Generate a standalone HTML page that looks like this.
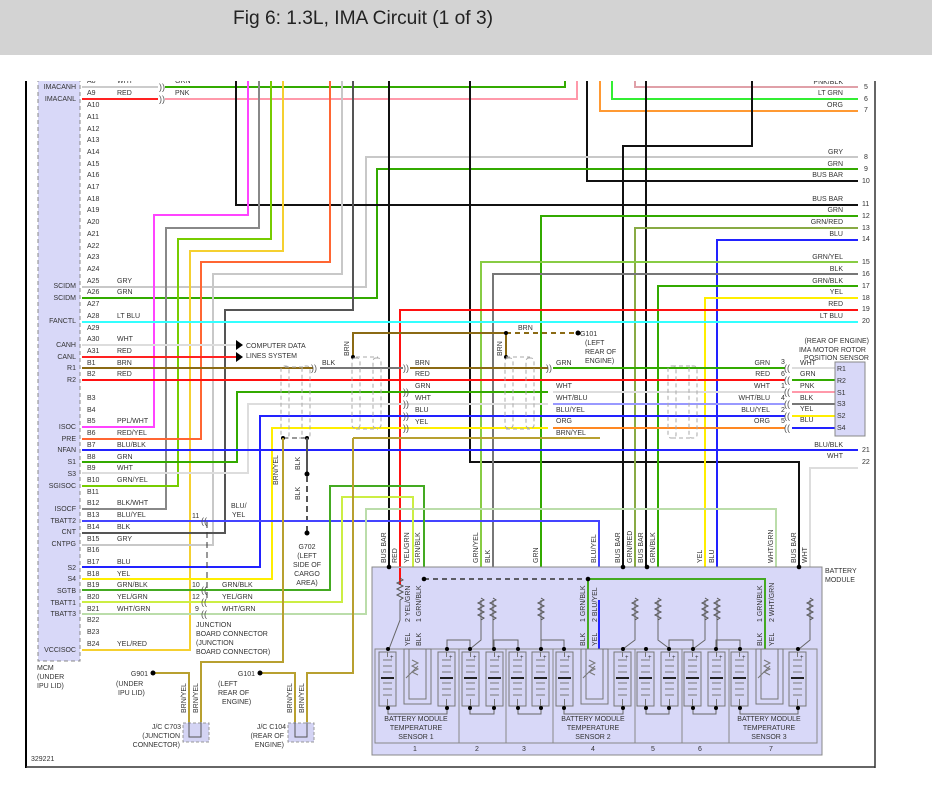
<!DOCTYPE html>
<html><head><meta charset="utf-8"><style>
html,body{margin:0;padding:0;background:#fff;}
svg{display:block;font-family:"Liberation Sans",sans-serif;}
.t{font-size:7px;fill:#333;}
.tr{font-size:7px;fill:#333;text-anchor:end;}
.tm{font-size:7px;fill:#333;text-anchor:middle;}
.w{fill:none;stroke-width:2;}
.thin{fill:none;stroke-width:1;}
.cn{font-size:9px;fill:#555;}
</style></head><body>
<svg width="932" height="798" viewBox="0 0 932 798" xmlns="http://www.w3.org/2000/svg">
<defs>
<clipPath id="c"><rect x="0" y="81" width="932" height="717"/></clipPath>
<g id="cell">
<rect x="0" y="0" width="17" height="54" fill="#d4d4f4" stroke="#777" stroke-width="1"/>
<line x1="4" y1="8" x2="13" y2="8" stroke="#777"/>
<line x1="4" y1="14" x2="13" y2="14" stroke="#777"/>
<line x1="4" y1="20" x2="13" y2="20" stroke="#777"/>
<line x1="2" y1="26" x2="15" y2="26" stroke="#222" stroke-width="2"/>
<line x1="4" y1="31" x2="13" y2="31" stroke="#777"/>
<line x1="4" y1="37" x2="13" y2="37" stroke="#777"/>
<line x1="4" y1="43" x2="13" y2="43" stroke="#777"/>
<line x1="8.5" y1="0" x2="8.5" y2="5" stroke="#777"/>
<line x1="8.5" y1="47" x2="8.5" y2="54" stroke="#777"/>
<text x="11" y="7" style="font-size:6px" fill="#333">+</text>
</g>
<path id="res" d="M0 0 l3 2 l-6 3 l6 3 l-6 3 l6 3 l-6 3 l6 3 l-3 2" fill="none" stroke="#555" stroke-width="1"/>
</defs>

<rect x="0" y="0" width="932" height="55" fill="#d3d3d3"/>
<text x="233" y="24" style="font-size:19px" fill="#222" textLength="260" lengthAdjust="spacingAndGlyphs">Fig 6: 1.3L, IMA Circuit (1 of 3)</text>

<!-- frame -->
<line x1="26" y1="81" x2="26" y2="768" stroke="#000" stroke-width="2"/>
<line x1="875" y1="81" x2="875" y2="768" stroke="#333" stroke-width="1.5"/>
<line x1="26" y1="767" x2="875" y2="767" stroke="#333" stroke-width="1.5"/>

<g clip-path="url(#c)">
<!-- MCM box -->
<rect x="38" y="78" width="42" height="583" fill="#d8d8f8" stroke="#888" stroke-dasharray="4,3"/>

<!-- top area wires -->
<path class="w" stroke="#ccc" d="M82 87H158"/>
<path class="w" stroke="#33aa00" d="M165 87H565V70"/>
<path class="w" stroke="#ff2222" d="M82 99H158"/>
<path class="w" stroke="#ff99aa" d="M165 99H577V70"/>
<path class="w" stroke="#e0a0a8" d="M635 70V87H858"/>
<path class="w" stroke="#33ee33" d="M612 70V99H858"/>
<path class="w" stroke="#ff9933" d="M600 70V111H858"/>
<path class="w" stroke="#111" d="M587 70V181H858"/>
<path class="w" stroke="#c8c8c8" d="M82 287H366V157H858"/>
<path class="w" stroke="#33aa00" d="M82 298H377V169H858"/>
<path class="w" stroke="#111" d="M236 70V205H858"/>
<path class="w" stroke="#ff44ff" d="M248 70V215H154V427H82"/>
<path class="w" stroke="#888" d="M259 70V228H166V509H82"/>
<path class="w" stroke="#77cc00" d="M271 70V239H178V486H82"/>
<path class="w" stroke="#f5d030" d="M283 70V251H190V650H82"/>
<path class="w" stroke="#ff6633" d="M330 70V262H201V439H82"/>
<path class="w" stroke="#c8c8c8" d="M342 70V274H213V545H82"/>
<path class="w" stroke="#555" d="M353 70V310H225V533H82"/>
<path class="w" stroke="#111" d="M389 70V649"/>
<path class="w" stroke="#111" d="M470 70V462H799V649"/>
<path class="w" stroke="#111" d="M646 70V649"/>
<path class="w" stroke="#111" d="M752 70V146H623V649"/>

<!-- right numbered wires going down -->
<path class="w" stroke="#33aa00" d="M858 216H541V600"/>
<path class="w" stroke="#88aa44" d="M858 228H635V600"/>
<path class="w" stroke="#2222ff" d="M858 240H717V600"/>
<path class="w" stroke="#88cc44" d="M858 262H481V600"/>
<path class="w" stroke="#777" d="M858 274H493V600"/>
<path class="w" stroke="#33aa00" d="M858 286H658V600"/>
<path class="w" stroke="#ffee00" d="M858 298H705V600"/>
<path class="w" stroke="#ff1111" d="M858 310H400V585"/>
<path class="w" stroke="#33ffff" d="M82 322H858"/>

<!-- CAN -->
<path class="w" stroke="#ddd" d="M82 345H237"/>
<path class="w" stroke="#ff2222" d="M82 357H237"/>
<path d="M236 340l7 5l-7 5z M236 352l7 5l-7 5z" fill="#000"/>
<text class="t" x="246" y="348">COMPUTER DATA</text>
<text class="t" x="246" y="358">LINES SYSTEM</text>

<!-- rows to rotor sensor -->
<path class="w" stroke="#8b6a14" d="M82 368H313"/>
<path class="w" stroke="#777" d="M320 368H403"/>
<path class="w" stroke="#8b6a14" d="M410 368H548"/>
<path class="w" stroke="#33aa00" d="M553 368H785"/>
<path class="w" stroke="#ddd" d="M792 368H835"/>
<path class="w" stroke="#ff1111" d="M82 380H785"/>
<path class="w" stroke="#33aa00" d="M792 380H835"/>
<path class="w" stroke="#33aa00" d="M82 462H237V392H548"/>
<path class="w" stroke="#ddd" d="M553 392H785"/>
<path class="w" stroke="#ff99aa" d="M792 392H835"/>
<path class="w" stroke="#ddd" d="M82 473H248V404H548"/>
<path class="w" stroke="#9999ff" d="M553 404H785"/>
<path class="w" stroke="#777" d="M792 404H835"/>
<path class="w" stroke="#2222ff" d="M82 567H260V416H785"/>
<path class="w" stroke="#ffee00" d="M792 416H835"/>
<path class="w" stroke="#ffee00" d="M82 579H272V428H548"/>
<path class="w" stroke="#ff8822" d="M553 428H785"/>
<path class="w" stroke="#2222ff" d="M792 428H835"/>
<path class="w" stroke="#b8a030" d="M353 438H600"/>
<path class="w" stroke="#2222ff" d="M82 450H858"/>
<path class="w" stroke="#ddd" d="M858 468H810V600"/>

<!-- BRN to G101 -->
<path class="w" stroke="#8b6a14" d="M353 357V333H506"/>
<path class="w" stroke="#8b6a14" d="M506 333V357"/>
<path class="w" stroke="#8b6a14" stroke-dasharray="5,4" d="M506 333H578"/>
<circle cx="353" cy="357" r="2" fill="#000"/><circle cx="506" cy="333" r="2" fill="#000"/><circle cx="506" cy="357" r="2" fill="#000"/><circle cx="578" cy="333" r="2.5" fill="#000"/>
<text class="t" x="580" y="336">G101</text>
<text class="t" x="585" y="345">(LEFT</text>
<text class="t" x="585" y="354">REAR OF</text>
<text class="t" x="585" y="363">ENGINE)</text>
<text class="t" x="518" y="330">BRN</text>
<text class="t" transform="translate(349,356) rotate(-90)">BRN</text>
<text class="t" transform="translate(502,356) rotate(-90)">BRN</text>

<!-- shields -->
<g fill="none" stroke="#aaa" stroke-dasharray="4,3" stroke-width="1">
<rect x="281" y="366" width="8" height="72" rx="3"/><rect x="302" y="366" width="8" height="72" rx="3"/>
<path d="M285 367H305 M285 438H307"/>
<rect x="352" y="358" width="8" height="70" rx="3"/><rect x="373" y="358" width="8" height="70" rx="3"/>
<path d="M356 357H378 M356 429H378"/>
<rect x="505" y="358" width="8" height="70" rx="3"/><rect x="526" y="358" width="8" height="70" rx="3"/>
<path d="M506 357H530 M506 429H530"/>
<rect x="668" y="366" width="8" height="72" rx="3"/><rect x="689" y="366" width="8" height="72" rx="3"/>
<path d="M672 366H693 M672 438H693"/>
</g>
<path stroke="#333" stroke-dasharray="5,4" fill="none" d="M283 438H307"/>
<circle cx="283" cy="438" r="2" fill="#000"/><circle cx="307" cy="438" r="2" fill="#000"/>
<path stroke="#555" stroke-width="2" fill="none" d="M307 438V474"/>
<circle cx="307" cy="474" r="2.5" fill="#000"/>
<path stroke="#555" stroke-width="2" stroke-dasharray="6,4" fill="none" d="M307 476V532"/>
<circle cx="307" cy="533" r="2.5" fill="#000"/>
<text class="t" transform="translate(300,470) rotate(-90)">BLK</text>
<text class="t" transform="translate(300,500) rotate(-90)">BLK</text>
<text class="t" transform="translate(278,485) rotate(-90)">BRN/YEL</text>
<text class="tm" x="307" y="549">G702</text>
<text class="tm" x="307" y="558">(LEFT</text>
<text class="tm" x="307" y="567">SIDE OF</text>
<text class="tm" x="307" y="576">CARGO</text>
<text class="tm" x="307" y="585">AREA)</text>

<!-- B13 blue, junction wires -->
<path class="w" stroke="#4444ff" d="M82 521H599V600"/>
<path class="w" stroke="#44aa22" d="M82 590H330V486H424V649"/>
<path class="w" stroke="#ccee44" d="M82 602H342V497H413V649"/>
<path class="w" stroke="#bbddaa" d="M82 614H366V509H776V649"/>
<path stroke="#333" stroke-dasharray="6,4" fill="none" d="M207 522V600"/>
<text class="cn" x="201" y="524">((</text>
<text class="cn" x="201" y="593">((</text>
<text class="cn" x="201" y="605">((</text>
<text class="cn" x="201" y="617">((</text>
<text class="t" x="192" y="518">11</text>
<text class="t" x="192" y="587">10</text>
<text class="t" x="192" y="599">12</text>
<text class="t" x="195" y="611">9</text>
<text class="t" x="222" y="587">GRN/BLK</text>
<text class="t" x="222" y="599">YEL/GRN</text>
<text class="t" x="222" y="611">WHT/GRN</text>
<text class="t" x="231" y="508">BLU/</text>
<text class="t" x="232" y="517">YEL</text>
<text class="t" x="196" y="627">JUNCTION</text>
<text class="t" x="196" y="636">BOARD CONNECTOR</text>
<text class="t" x="196" y="645">(JUNCTION</text>
<text class="t" x="196" y="654">BOARD CONNECTOR)</text>

<!-- bottom-left grounds -->
<path class="w" stroke="#b8a030" d="M153 673H189V722"/>
<path class="w" stroke="#b8a030" d="M201 722V662H283V438"/>
<path class="w" stroke="#b8a030" d="M260 673H295V722"/>
<path class="w" stroke="#b8a030" d="M307 722V673H353V438"/>
<circle cx="153" cy="673" r="2.5" fill="#000"/><circle cx="260" cy="673" r="2.5" fill="#000"/>
<text class="tr" x="148" y="676">G901</text>
<text class="t" x="116" y="686">(UNDER</text>
<text class="t" x="118" y="695">IPU LID)</text>
<text class="tr" x="255" y="676">G101</text>
<text class="t" x="218" y="686">(LEFT</text>
<text class="t" x="218" y="695">REAR OF</text>
<text class="t" x="222" y="704">ENGINE)</text>
<text class="t" transform="translate(186,713) rotate(-90)">BRN/YEL</text>
<text class="t" transform="translate(198,713) rotate(-90)">BRN/YEL</text>
<text class="t" transform="translate(292,713) rotate(-90)">BRN/YEL</text>
<text class="t" transform="translate(304,713) rotate(-90)">BRN/YEL</text>
<rect x="183" y="723" width="26" height="19" fill="#d4d4f4" stroke="#999" stroke-dasharray="3,2"/>
<rect x="288" y="723" width="26" height="19" fill="#d4d4f4" stroke="#999" stroke-dasharray="3,2"/>
<path d="M189 722V737H201V722 M295 722V737H307V722" stroke="#555" fill="none"/>
<text class="tr" x="181" y="729">J/C C703</text>
<text class="tr" x="180" y="738">(JUNCTION</text>
<text class="tr" x="180" y="747">CONNECTOR)</text>
<text class="tr" x="286" y="729">J/C C104</text>
<text class="tr" x="284" y="738">(REAR OF</text>
<text class="tr" x="284" y="747">ENGINE)</text>
<text class="t" x="37" y="670">MCM</text>
<text class="t" x="37" y="679">(UNDER</text>
<text class="t" x="37" y="688">IPU LID)</text>
<text class="t" x="31" y="761">329221</text>

<!-- MCM pins -->
<g class="t">
<text x="87" y="83">A8</text><text x="87" y="95">A9</text><text x="87" y="107">A10</text><text x="87" y="119">A11</text><text x="87" y="131">A12</text><text x="87" y="142">A13</text><text x="87" y="154">A14</text><text x="87" y="166">A15</text><text x="87" y="177">A16</text><text x="87" y="189">A17</text><text x="87" y="201">A18</text><text x="87" y="212">A19</text><text x="87" y="224">A20</text><text x="87" y="236">A21</text><text x="87" y="248">A22</text><text x="87" y="259">A23</text><text x="87" y="271">A24</text><text x="87" y="283">A25</text><text x="87" y="294">A26</text><text x="87" y="306">A27</text><text x="87" y="318">A28</text><text x="87" y="330">A29</text><text x="87" y="341">A30</text><text x="87" y="353">A31</text><text x="87" y="365">B1</text><text x="87" y="376">B2</text>
<text x="87" y="400">B3</text><text x="87" y="412">B4</text><text x="87" y="423">B5</text><text x="87" y="435">B6</text><text x="87" y="447">B7</text><text x="87" y="459">B8</text><text x="87" y="470">B9</text><text x="87" y="482">B10</text><text x="87" y="494">B11</text><text x="87" y="505">B12</text><text x="87" y="517">B13</text><text x="87" y="529">B14</text><text x="87" y="541">B15</text><text x="87" y="552">B16</text><text x="87" y="564">B17</text><text x="87" y="576">B18</text><text x="87" y="587">B19</text><text x="87" y="599">B20</text><text x="87" y="611">B21</text><text x="87" y="622">B22</text><text x="87" y="634">B23</text><text x="87" y="646">B24</text>
<text x="117" y="83">WHT</text><text x="117" y="95">RED</text><text x="117" y="283">GRY</text><text x="117" y="294">GRN</text><text x="117" y="318">LT BLU</text><text x="117" y="341">WHT</text><text x="117" y="353">RED</text><text x="117" y="365">BRN</text><text x="117" y="376">RED</text>
<text x="117" y="423">PPL/WHT</text><text x="117" y="435">RED/YEL</text><text x="117" y="447">BLU/BLK</text><text x="117" y="459">GRN</text><text x="117" y="470">WHT</text><text x="117" y="482">GRN/YEL</text><text x="117" y="505">BLK/WHT</text><text x="117" y="517">BLU/YEL</text><text x="117" y="529">BLK</text><text x="117" y="541">GRY</text><text x="117" y="564">BLU</text><text x="117" y="576">YEL</text><text x="117" y="587">GRN/BLK</text><text x="117" y="599">YEL/GRN</text><text x="117" y="611">WHT/GRN</text><text x="117" y="646">YEL/RED</text>
<text x="175" y="83">GRN</text><text x="175" y="95">PNK</text>
</g>
<g class="tr">
<text x="76" y="89">IMACANH</text><text x="76" y="101">IMACANL</text><text x="76" y="288">SCIDM</text><text x="76" y="300">SCIDM</text><text x="76" y="323">FANCTL</text><text x="76" y="347">CANH</text><text x="76" y="359">CANL</text><text x="76" y="370">R1</text><text x="76" y="382">R2</text>
<text x="76" y="429">ISOC</text><text x="76" y="441">PRE</text><text x="76" y="452">NFAN</text><text x="76" y="464">S1</text><text x="76" y="476">S3</text><text x="76" y="488">SGISOC</text><text x="76" y="511">ISOCF</text><text x="76" y="523">TBATT2</text><text x="76" y="534">CNT</text><text x="76" y="546">CNTPG</text><text x="76" y="570">S2</text><text x="76" y="581">S4</text><text x="76" y="593">SGTB</text><text x="76" y="605">TBATT1</text><text x="76" y="616">TBATT3</text><text x="76" y="652">VCCISOC</text>
</g>
<!-- connectors small -->
<g class="cn"><text x="159" y="90">))</text><text x="159" y="102">))</text><text x="311" y="371">))</text><text x="403" y="371">))</text><text x="546" y="371">))</text><text x="403" y="395">))</text><text x="403" y="407">))</text><text x="403" y="419">))</text><text x="403" y="431">))</text>
<text x="784" y="371">((</text><text x="784" y="383">((</text><text x="784" y="395">((</text><text x="784" y="407">((</text><text x="784" y="419">((</text><text x="784" y="431">((</text></g>
<text class="t" x="322" y="365">BLK</text>
<g class="t"><text x="415" y="365">BRN</text><text x="415" y="376">RED</text><text x="415" y="388">GRN</text><text x="415" y="400">WHT</text><text x="415" y="412">BLU</text><text x="415" y="424">YEL</text>
<text x="556" y="365">GRN</text><text x="556" y="388">WHT</text><text x="556" y="400">WHT/BLU</text><text x="556" y="412">BLU/YEL</text><text x="556" y="423">ORG</text><text x="556" y="435">BRN/YEL</text>
<text x="800" y="365">WHT</text><text x="800" y="376">GRN</text><text x="800" y="388">PNK</text><text x="800" y="400">BLK</text><text x="800" y="411">YEL</text><text x="800" y="422">BLU</text></g>
<g class="tr"><text x="770" y="365">GRN</text><text x="770" y="376">RED</text><text x="770" y="388">WHT</text><text x="770" y="400">WHT/BLU</text><text x="770" y="412">BLU/YEL</text><text x="770" y="423">ORG</text></g>
<g class="t"><text x="781" y="364">3</text><text x="781" y="376">6</text><text x="781" y="388">1</text><text x="781" y="400">4</text><text x="781" y="412">2</text><text x="781" y="423">5</text></g>
<rect x="835" y="362" width="30" height="74" fill="#d8d8f8" stroke="#888"/>
<g class="t"><text x="837" y="371">R1</text><text x="837" y="383">R2</text><text x="837" y="395">S1</text><text x="837" y="406">S3</text><text x="837" y="418">S2</text><text x="837" y="430">S4</text></g>
<g class="tr"><text x="869" y="343">(REAR OF ENGINE)</text><text x="866" y="352">IMA MOTOR ROTOR</text><text x="869" y="360">POSITION SENSOR</text></g>

<!-- right wire labels -->
<g class="tr">
<text x="843" y="84">PNK/BLK</text><text x="843" y="95">LT GRN</text><text x="843" y="107">ORG</text><text x="843" y="154">GRY</text><text x="843" y="166">GRN</text><text x="843" y="177">BUS BAR</text><text x="843" y="201">BUS BAR</text><text x="843" y="212">GRN</text><text x="843" y="224">GRN/RED</text><text x="843" y="236">BLU</text><text x="843" y="259">GRN/YEL</text><text x="843" y="271">BLK</text><text x="843" y="283">GRN/BLK</text><text x="843" y="294">YEL</text><text x="843" y="306">RED</text><text x="843" y="318">LT BLU</text><text x="843" y="447">BLU/BLK</text><text x="843" y="458">WHT</text>
</g>
<g class="t">
<text x="864" y="89">5</text><text x="864" y="101">6</text><text x="864" y="112">7</text><text x="864" y="159">8</text><text x="864" y="171">9</text><text x="862" y="183">10</text><text x="862" y="206">11</text><text x="862" y="218">12</text><text x="862" y="230">13</text><text x="862" y="241">14</text><text x="862" y="264">15</text><text x="862" y="276">16</text><text x="862" y="288">17</text><text x="862" y="300">18</text><text x="862" y="311">19</text><text x="862" y="323">20</text><text x="862" y="452">21</text><text x="862" y="464">22</text>
</g>

<!-- battery module -->
<rect x="372" y="567" width="450" height="188" fill="#d8d8f8" stroke="#888"/>
<rect x="375" y="649" width="442" height="94" fill="none" stroke="#888"/>
<path d="M459 649V743 M506 649V743 M553 649V743 M635 649V743 M682 649V743 M729 649V743" stroke="#888"/>
<text class="t" x="825" y="573">BATTERY</text>
<text class="t" x="825" y="582">MODULE</text>
<path class="w" stroke="#ff1111" d="M400 585V568"/>
<path class="w" stroke="#2222ff" d="M599 600V649"/>
<path stroke="#333" stroke-width="1.5" stroke-dasharray="5,4" fill="none" d="M424 579H588"/>
<path class="w" stroke="#44aa22" d="M588 579H765V649 M588 579V649"/>
<circle cx="424" cy="579" r="2.3" fill="#000"/><circle cx="588" cy="579" r="2.3" fill="#000"/>
<circle cx="389" cy="567" r="2.3" fill="#000"/><circle cx="623" cy="567" r="2.3" fill="#000"/><circle cx="647" cy="567" r="2.3" fill="#000"/><circle cx="799" cy="567" r="2.3" fill="#000"/>
<g stroke="#666" fill="none" stroke-width="1">
<path d="M400 600V620L389 649"/>
<path d="M481 600V640L470 649 M493 600V649 M541 600V649 M635 600V640L623 649 M658 600V640L670 649 M705 600V640L693 649 M717 600V649 M810 600V640L799 649"/>
<path d="M388 708V714H447V708 M470 708V714H494V708 M518 708V714H541V708 M564 708V714H623V708 M646 708V714H669V708 M693 708V714H716V708 M740 708V714H798V708"/>
<path d="M447 649V640H470V649 M494 649V640H518V649 M541 649V640H564V649 M669 649V640H693V649 M716 649V640H740V649"/>
</g>
<g fill="none" stroke="#555" stroke-width="1"><use href="#res" x="400" y="578"/><use href="#res" x="481" y="598"/><use href="#res" x="493" y="598"/><use href="#res" x="541" y="598"/><use href="#res" x="635" y="598"/><use href="#res" x="658" y="598"/><use href="#res" x="705" y="598"/><use href="#res" x="717" y="598"/><use href="#res" x="810" y="598"/></g>
<g fill="none" stroke="#777">
<rect x="404" y="649" width="27" height="55"/><rect x="409" y="649" width="17" height="50"/>
<rect x="581" y="649" width="27" height="55"/><rect x="586" y="649" width="17" height="50"/>
<rect x="756" y="649" width="27" height="55"/><rect x="761" y="649" width="17" height="50"/>
<path d="M412 660l6 3l-6 3l6 3l-6 3l6 3 M406 678l12-12"/>
<path d="M589 660l6 3l-6 3l6 3l-6 3l6 3 M583 678l12-12"/>
<path d="M764 660l6 3l-6 3l6 3l-6 3l6 3 M758 678l12-12"/>
</g>
<g>
<use href="#cell" x="379" y="652"/><use href="#cell" x="438" y="652"/><use href="#cell" x="462" y="652"/><use href="#cell" x="486" y="652"/><use href="#cell" x="509" y="652"/><use href="#cell" x="532" y="652"/><use href="#cell" x="556" y="652"/><use href="#cell" x="614" y="652"/><use href="#cell" x="637" y="652"/><use href="#cell" x="661" y="652"/><use href="#cell" x="684" y="652"/><use href="#cell" x="708" y="652"/><use href="#cell" x="731" y="652"/><use href="#cell" x="789" y="652"/>
</g>
<g fill="#000">
<circle cx="388" cy="649" r="2"/><circle cx="447" cy="649" r="2"/><circle cx="470" cy="649" r="2"/><circle cx="494" cy="649" r="2"/><circle cx="518" cy="649" r="2"/><circle cx="541" cy="649" r="2"/><circle cx="564" cy="649" r="2"/><circle cx="623" cy="649" r="2"/><circle cx="646" cy="649" r="2"/><circle cx="669" cy="649" r="2"/><circle cx="693" cy="649" r="2"/><circle cx="716" cy="649" r="2"/><circle cx="740" cy="649" r="2"/><circle cx="798" cy="649" r="2"/>
<circle cx="388" cy="708" r="2"/><circle cx="447" cy="708" r="2"/><circle cx="470" cy="708" r="2"/><circle cx="494" cy="708" r="2"/><circle cx="518" cy="708" r="2"/><circle cx="541" cy="708" r="2"/><circle cx="564" cy="708" r="2"/><circle cx="623" cy="708" r="2"/><circle cx="646" cy="708" r="2"/><circle cx="669" cy="708" r="2"/><circle cx="693" cy="708" r="2"/><circle cx="716" cy="708" r="2"/><circle cx="740" cy="708" r="2"/><circle cx="798" cy="708" r="2"/>
</g>
<g class="tm">
<text x="416" y="721">BATTERY MODULE</text><text x="416" y="730">TEMPERATURE</text><text x="416" y="739">SENSOR 1</text>
<text x="593" y="721">BATTERY MODULE</text><text x="593" y="730">TEMPERATURE</text><text x="593" y="739">SENSOR 2</text>
<text x="769" y="721">BATTERY MODULE</text><text x="769" y="730">TEMPERATURE</text><text x="769" y="739">SENSOR 3</text>
<text x="415" y="751">1</text><text x="477" y="751">2</text><text x="524" y="751">3</text><text x="593" y="751">4</text><text x="653" y="751">5</text><text x="700" y="751">6</text><text x="771" y="751">7</text>
</g>
<g class="t">
<text transform="translate(410,622) rotate(-90)">2 YEL/GRN</text><text transform="translate(421,622) rotate(-90)">1 GRN/BLK</text>
<text transform="translate(410,646) rotate(-90)">YEL</text><text transform="translate(421,646) rotate(-90)">BLK</text>
<text transform="translate(585,622) rotate(-90)">1 GRN/BLK</text><text transform="translate(597,622) rotate(-90)">2 BLU/YEL</text>
<text transform="translate(585,646) rotate(-90)">BLK</text><text transform="translate(597,646) rotate(-90)">YEL</text>
<text transform="translate(762,622) rotate(-90)">1 GRN/BLK</text><text transform="translate(774,622) rotate(-90)">2 WHT/GRN</text>
<text transform="translate(762,646) rotate(-90)">BLK</text><text transform="translate(774,646) rotate(-90)">YEL</text>
</g>
<g class="t">
<text transform="translate(386,563) rotate(-90)">BUS BAR</text><text transform="translate(397,563) rotate(-90)">RED</text><text transform="translate(409,563) rotate(-90)">YEL/GRN</text><text transform="translate(420,563) rotate(-90)">GRN/BLK</text>
<text transform="translate(478,563) rotate(-90)">GRN/YEL</text><text transform="translate(490,563) rotate(-90)">BLK</text><text transform="translate(538,563) rotate(-90)">GRN</text><text transform="translate(596,563) rotate(-90)">BLU/YEL</text>
<text transform="translate(620,563) rotate(-90)">BUS BAR</text><text transform="translate(632,563) rotate(-90)">GRN/RED</text><text transform="translate(643,563) rotate(-90)">BUS BAR</text><text transform="translate(655,563) rotate(-90)">GRN/BLK</text>
<text transform="translate(702,563) rotate(-90)">YEL</text><text transform="translate(714,563) rotate(-90)">BLU</text><text transform="translate(773,563) rotate(-90)">WHT/GRN</text><text transform="translate(796,563) rotate(-90)">BUS BAR</text><text transform="translate(807,563) rotate(-90)">WHT</text>
</g>
</g>
</svg>
</body></html>
